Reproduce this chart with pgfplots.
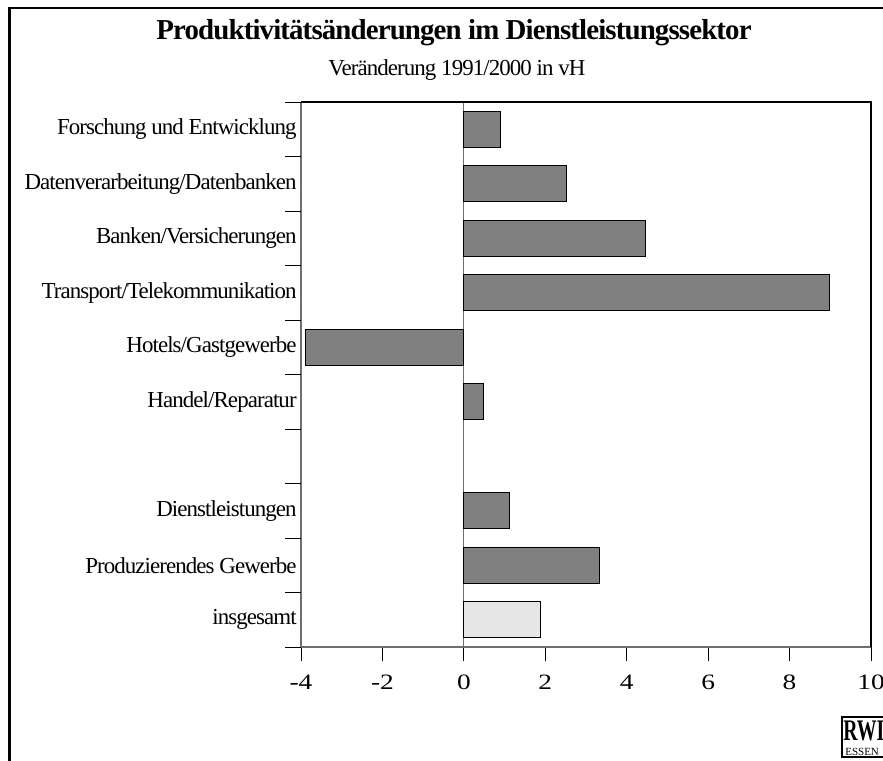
\documentclass[border=0pt]{standalone}
\usepackage{pgfplots}
\pgfplotsset{compat=1.18}
\usepackage{fontspec}
\setmainfont{Liberation Serif}
\newfontfamily\tightfont[LetterSpace=-4]{Liberation Serif}
\newfontfamily\titlefont[LetterSpace=-3]{Liberation Serif}
\newfontfamily\tickfont[FakeStretch=1.25]{Liberation Serif}

\definecolor{bargray}{RGB}{128,128,128}
\definecolor{lightbar}{RGB}{230,230,230}
\definecolor{axgray}{RGB}{110,110,110}

\begin{document}
\begin{tikzpicture}
\useasboundingbox (0,0) rectangle (441.5bp,-380.5bp);

% frame, title, subtitle, logo (pixel units of the reference)
\begin{scope}[x=0.5bp,y=-0.5bp]
\draw[line width=1.4bp] (9.5,900) -- (9.5,8) -- (950,8);
\node[font=\titlefont\fontsize{14.5}{16}\selectfont\bfseries] at (454,33)
  {Produktivitätsänderungen im Dienstleistungssektor};
\node[font=\tightfont\fontsize{11.5}{13}\selectfont] at (457,70)
  {Veränderung 1991/2000 in vH};
\draw[line width=0.6bp] (842,717) rectangle (920,757);
\node[font=\fontsize{15}{16}\selectfont\bfseries, xscale=0.66, anchor=west, inner sep=0pt] at (843,731) {RWI};
\node[font=\fontsize{5.5}{6}\selectfont, anchor=west, inner sep=0pt] at (845,752) {ESSEN};
\end{scope}

\begin{axis}[
  at={(150.5bp,-323.5bp)}, anchor=south west,
  scale only axis, width=285bp, height=272.5bp,
  xbar, bar width=0.66,
  xmin=-4, xmax=10, ymin=0.5, ymax=10.5,
  y dir=reverse,
  clip=false,
  axis line style={draw=none},
  xtick={-4,-2,0,2,4,6,8,10},
  xtick pos=bottom, tick align=outside, major tick length=7bp,
  xtick style={draw=black, line width=0.5bp},
  ytick={1,2,3,4,5,6,8,9,10},
  yticklabels={Forschung und Entwicklung, Datenverarbeitung/Datenbanken,
    Banken/Versicherungen, Transport/Telekommunikation, Hotels/Gastgewerbe,
    Handel/Reparatur, Dienstleistungen, Produzierendes Gewerbe, insgesamt},
  ytick style={draw=none},
  yticklabel style={anchor=east, inner sep=0pt, xshift=5bp,
    font=\tightfont\fontsize{11.5}{13}\selectfont},
  xticklabel style={anchor=north, inner sep=0pt, yshift=-7bp,
    font=\tickfont\fontsize{11}{12}\selectfont},
  /pgf/number format/assume math mode=true,
]
\draw[axgray, line width=0.5bp] (axis cs:0,0.5) -- (axis cs:0,10.5);

\addplot[fill=bargray, draw=black, line width=0.5bp, bar shift=0pt]
  coordinates {(0.91,1) (2.53,2) (4.47,3) (8.98,4) (-3.9,5) (0.49,6) (1.11,8) (3.32,9)};
\addplot[fill=lightbar, draw=black, line width=0.5bp, bar shift=0pt]
  coordinates {(1.89,10)};

\draw[axgray, line width=0.6bp] (axis cs:-4,0.5) -- (axis cs:-4,10.5) -- (axis cs:10,10.5);
\draw[black, line width=0.6bp] (axis cs:-4,0.5) -- (axis cs:10,0.5) -- (axis cs:10,10.5);
\pgfplotsinvokeforeach{0.5,1.5,2.5,3.5,4.5,5.5,6.5,7.5,8.5,9.5,10.5}{
  \draw[black, line width=0.5bp] (axis cs:-4,#1) -- ([xshift=-8bp]axis cs:-4,#1);
}
\end{axis}
\end{tikzpicture}
\end{document}
